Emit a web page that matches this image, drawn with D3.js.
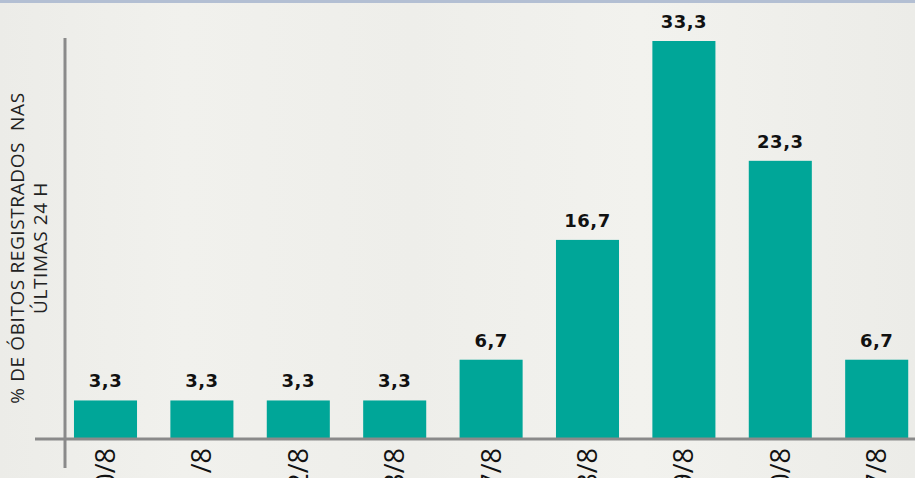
<!DOCTYPE html>
<html>
<head>
<meta charset="utf-8">
<script src="https://cdn.jsdelivr.net/npm/d3@7"></script>
<style>
  html, body { margin: 0; padding: 0; background: #efefeb; overflow: hidden; }
  svg { display: block; }
</style>
</head>
<body>
<div id="chart"></div>
<script>
/* CONSTANTS AND GLOBALS */
const width = 915,
  height = 478;

// data
const dates = ["10/8", "11/8", "12/8", "13/8", "17/8", "18/8", "19/8", "20/8", "27/8"];
const percents = [3.3, 3.3, 3.3, 3.3, 6.7, 16.7, 33.3, 23.3, 6.7];
const yTitle = ["% DE ÓBITOS REGISTRADOS  NAS", "ÚLTIMAS 24 H"];

const data = dates.map((d, i) => ({ date: d, value: percents[i] }));

const svg = d3.select("#chart")
  .append("svg")
  .attr("width", width)
  .attr("height", height);

// background with faint vertical streaks
const defs = svg.append("defs");
const grad = defs.append("linearGradient").attr("id", "bg").attr("x1", 0).attr("x2", 1);
[["0%", "#ecece8"], ["20%", "#f1f1ed"], ["45%", "#eeeeea"], ["70%", "#f2f2ee"], ["100%", "#ececE8"]]
  .forEach(s => grad.append("stop").attr("offset", s[0]).attr("stop-color", s[1]));
svg.append("rect").attr("width", width).attr("height", height).attr("fill", "url(#bg)");

// thin top border
svg.append("rect").attr("x", 0).attr("y", 0).attr("width", width).attr("height", 3).attr("fill", "#b3bfd3");

// + SCALES
const xScale = d3.scaleBand()
  .domain(dates)
  .range([57.3, 924.9])
  .paddingInner(0.346)
  .paddingOuter(0.173);

const yScale = d3.scaleLinear()
  .domain([0, 33.3])
  .range([440, 41]);

// + BARS
svg.selectAll("rect.bar")
  .data(data)
  .join("rect")
  .attr("class", "bar")
  .attr("x", d => xScale(d.date))
  .attr("y", d => yScale(d.value))
  .attr("width", xScale.bandwidth())
  .attr("height", d => yScale(0) - yScale(d.value))
  .attr("fill", "#00a698");

// value labels
svg.selectAll("text.val")
  .data(data)
  .join("text")
  .attr("class", "val")
  .attr("x", d => xScale(d.date) + xScale.bandwidth() / 2)
  .attr("y", d => yScale(d.value) - 13)
  .attr("text-anchor", "middle")
  .attr("font-family", "DejaVu Sans")
  .attr("font-weight", "bold")
  .attr("font-size", 18)
  .attr("letter-spacing", 0.5)
  .attr("fill", "#111")
  .text(d => String(d.value).replace(".", ","));

// + AXES
const xAxis = d3.axisBottom(xScale).tickSize(0).tickPadding(0);
const gx = svg.append("g")
  .attr("class", "axis x-axis")
  .attr("transform", `translate(0,${yScale(0) - 1})`)
  .call(xAxis);
gx.select(".domain").remove();
gx.selectAll("text")
  .attr("transform", "rotate(-90)")
  .attr("x", -9)
  .attr("y", 0)
  .attr("dy", "0.35em")
  .attr("text-anchor", "end")
  .attr("font-family", "Open Sans")
  .attr("font-size", 27)
  .attr("fill", "#111");

// axis lines
svg.append("line")
  .attr("x1", 35).attr("x2", width)
  .attr("y1", yScale(0) - 1).attr("y2", yScale(0) - 1)
  .attr("stroke", "#8a8a8a").attr("stroke-width", 3);
svg.append("line")
  .attr("x1", 65).attr("x2", 65)
  .attr("y1", 38).attr("y2", 468)
  .attr("stroke", "#8a8a8a").attr("stroke-width", 3);

// y title
const title = svg.append("text")
  .attr("transform", "translate(24,248) rotate(-90)")
  .attr("text-anchor", "middle")
  .attr("font-family", "Open Sans")
  .attr("font-size", 19)
  .attr("letter-spacing", 0.6)
  .attr("fill", "#222");
title.selectAll("tspan")
  .data(yTitle)
  .join("tspan")
  .attr("x", 0)
  .attr("dy", (d, i) => i === 0 ? 0 : 23)
  .style("white-space", "pre")
  .text(d => d);
</script>
</body>
</html>
